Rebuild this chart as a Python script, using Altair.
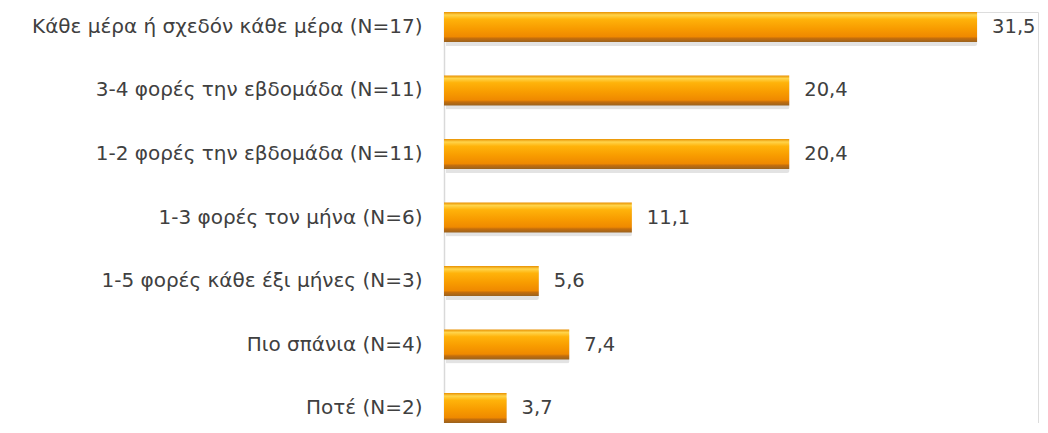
import altair as alt
import pandas as pd

categories = [
    "Κάθε μέρα ή σχεδόν κάθε μέρα (N=17)",
    "3-4 φορές την εβδομάδα (N=11)",
    "1-2 φορές την εβδομάδα (N=11)",
    "1-3 φορές τον μήνα (N=6)",
    "1-5 φορές κάθε έξι μήνες (N=3)",
    "Πιο σπάνια (N=4)",
    "Ποτέ (N=2)",
]
values = [31.5, 20.4, 20.4, 11.1, 5.6, 7.4, 3.7]
value_labels = ["31,5", "20,4", "20,4", "11,1", "5,6", "7,4", "3,7"]

df = pd.DataFrame({"cat": categories, "val": values, "lbl": value_labels})

FONT = "DejaVu Sans"

y = alt.Y(
    "cat:N",
    sort=categories,
    scale=alt.Scale(paddingInner=0.528, paddingOuter=0),
    axis=alt.Axis(
        title=None,
        ticks=False,
        domain=True,
        domainColor="#d9d9d9",
        domainWidth=1.5,
        labelFont=FONT,
        labelFontSize=20,
        labelColor="#404040",
        labelPadding=22,
        labelLimit=0,
        grid=False,
    ),
)
x = alt.X(
    "val:Q",
    scale=alt.Scale(domain=[0, 35.1], nice=False, zero=True),
    axis=None,
)

grad = alt.Gradient(
    gradient="linear",
    x1=0, x2=0, y1=0, y2=1,
    stops=[
        alt.GradientStop(offset=0.0, color="#E89000"),
        alt.GradientStop(offset=0.1, color="#FFD44A"),
        alt.GradientStop(offset=0.24, color="#FFB30A"),
        alt.GradientStop(offset=0.55, color="#F89C00"),
        alt.GradientStop(offset=0.82, color="#EF8900"),
        alt.GradientStop(offset=0.88, color="#C46E0C"),
        alt.GradientStop(offset=1.0, color="#9A621E"),
    ],
)

base = alt.Chart(df)

shadow = base.mark_bar(color="#7f7f7f", opacity=0.22, yOffset=4, xOffset=2, cornerRadius=2).encode(
    x=x, y=y
)
bars = base.mark_bar(color=grad).encode(x=x, y=y)
labels = base.mark_text(
    align="left", baseline="middle", dx=15, font=FONT, fontSize=19.5, color="#404040"
).encode(x=x, y=y, text="lbl:N")

chart = (
    alt.layer(shadow, bars, labels)
    .properties(
        width=594,
        height=411,
        autosize=alt.AutoSizeParams(type="none"),
        padding={"left": 436, "top": 4, "right": 2, "bottom": 0},
    )
    .configure_view(stroke=None)
    .configure(background="white")
)

chart.save("out.html", embed_options={"renderer": "svg", "actions": False})
